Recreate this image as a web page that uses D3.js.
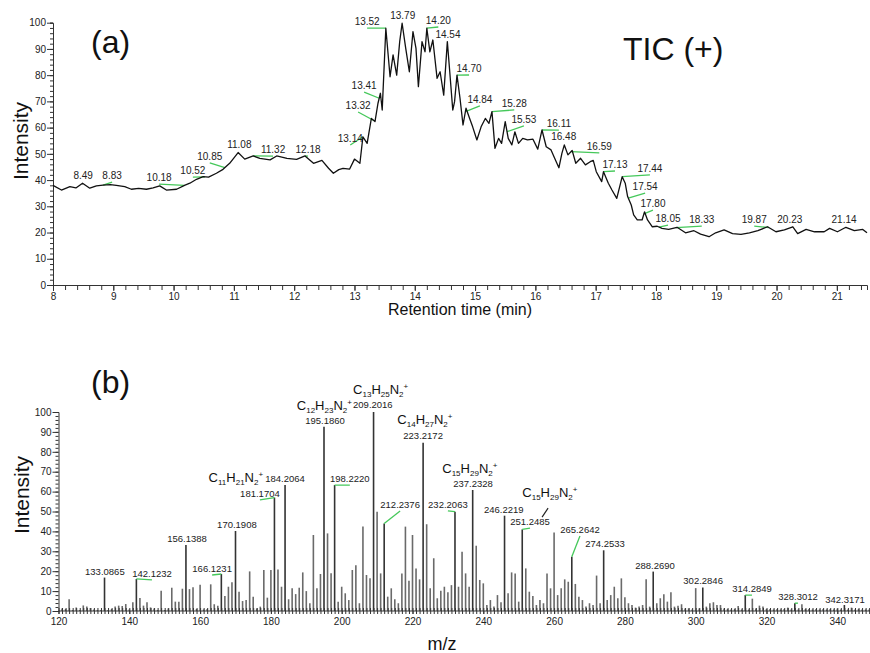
<!DOCTYPE html>
<html>
<head>
<meta charset="utf-8">
<script src="https://cdn.jsdelivr.net/npm/d3@7"></script>
<style>
body { margin: 0; background: #fff; }
text { font-family: "Liberation Sans", Arial, sans-serif; }
.axis path, .axis line { stroke: #333; }
.axis text { font-size: 10px; fill: #222; }
</style>
</head>
<body>
<svg id="chart" width="870" height="653"></svg>
<script>
// ---- (a) TIC (+) trace ----
var ticTime = [8.00, 8.14, 8.28, 8.38, 8.49, 8.61, 8.72, 8.83, 8.95, 9.05, 9.19, 9.30, 9.42, 9.55, 9.66, 9.77, 9.88, 10.05,
    10.19, 10.27, 10.38, 10.49, 10.58, 10.71, 10.82, 10.93, 11.07, 11.18, 11.32, 11.43, 11.60, 11.71, 11.88, 12.04,
    12.18, 12.32, 12.46, 12.57, 12.65, 12.74, 12.81, 12.92, 13.00, 13.09, 13.14, 13.21, 13.28, 13.34, 13.39, 13.43,
    13.46, 13.52, 13.59, 13.64, 13.70, 13.75, 13.79, 13.85, 13.91, 13.97, 14.02, 14.06, 14.12, 14.17, 14.20, 14.25,
    14.30, 14.37, 14.42, 14.48, 14.54, 14.58, 14.63, 14.66, 14.70, 14.75, 14.80, 14.85, 14.91, 14.96, 15.03, 15.10,
    15.17, 15.23, 15.28, 15.33, 15.39, 15.44, 15.50, 15.55, 15.61, 15.66, 15.72, 15.79, 15.87, 15.96, 16.04, 16.11,
    16.18, 16.26, 16.32, 16.39, 16.44, 16.48, 16.54, 16.61, 16.67, 16.75, 16.83, 16.91, 16.96, 17.01, 17.10, 17.13,
    17.21, 17.27, 17.35, 17.44, 17.49, 17.53, 17.59, 17.63, 17.69, 17.77, 17.81, 17.86, 17.94, 18.02, 18.10, 18.21,
    18.35, 18.49, 18.63, 18.74, 18.88, 18.99, 19.13, 19.27, 19.41, 19.55, 19.69, 19.85, 19.99, 20.13, 20.27, 20.35,
    20.49, 20.63, 20.79, 20.88, 21.01, 21.15, 21.29, 21.43, 21.50];
var ticIntensity = [38.0, 36.2, 37.5, 37.0, 38.8, 36.9, 37.8, 38.1, 38.3, 38.0, 37.5, 36.5, 36.8, 36.5, 37.0, 37.8, 36.2, 36.5,
    38.1, 38.8, 40.3, 41.3, 41.1, 42.6, 44.1, 46.4, 50.5, 48.0, 49.2, 48.3, 47.7, 49.2, 48.3, 47.9,
    49.2, 46.4, 47.5, 44.5, 42.6, 44.0, 44.5, 44.2, 48.0, 46.4, 56.5, 54.0, 63.5, 62.3, 69.3, 73.1,
    66.7, 97.9, 79.4, 87.7, 80.0, 92.8, 99.8, 90.2, 81.3, 96.6, 90.2, 75.6, 92.8, 88.9, 97.9, 88.9,
    93.4, 78.8, 81.3, 72.4, 92.8, 81.3, 66.7, 69.9, 80.0, 71.2, 61.0, 67.4, 63.5, 60.3, 55.3, 60.3,
    63.5, 61.6, 66.1, 52.1, 55.9, 54.0, 62.3, 55.9, 53.4, 58.4, 54.0, 55.9, 55.3, 55.6, 51.8, 59.1,
    52.7, 51.5, 48.3, 44.7, 50.2, 53.4, 49.6, 51.3, 46.4, 48.3, 45.8, 47.0, 47.5, 43.2, 39.4, 43.2,
    38.8, 36.2, 33.0, 41.3, 38.8, 33.7, 30.5, 26.7, 24.8, 24.8, 27.9, 24.8, 22.2, 22.4, 21.6, 21.2,
    22.0, 19.9, 20.7, 19.4, 18.4, 19.9, 21.0, 19.6, 19.3, 19.9, 20.7, 22.2, 20.3, 21.0, 22.2, 19.6,
    21.2, 20.3, 20.3, 21.6, 20.3, 22.0, 20.7, 21.2, 19.9];
var ticPeaks = ["8.49", "8.83", "10.18", "10.52", "10.85", "11.08", "11.32", "12.18", "13.14", "13.32", "13.41",
    "13.52", "13.79", "14.20", "14.54", "14.70", "14.84", "15.28", "15.53", "16.11", "16.48", "16.59", "17.13",
    "17.44", "17.54", "17.80", "18.05", "18.33", "19.87", "20.23", "21.14"];
var ticXTicks = [8, 9, 10, 11, 12, 13, 14, 15, 16, 17, 18, 19, 20, 21];
var yTicks = [0, 10, 20, 30, 40, 50, 60, 70, 80, 90, 100];

// ---- (b) mass spectrum, one bar per nominal m/z from 121 ----
var msStart = 121;
var msIntensity = [1.3, 1, 5.9, 0.5, 1.8, 0.5, 2.8, 2.2, 1.5, 0.8,
    0.5, 0.5, 16.8, 0.5, 1, 2.2, 2.7, 2.5, 3.5, 0.8,
    4.4, 16.1, 6.5, 2.7, 4.4, 1.8, 1.3, 0.5, 10.2, 0.5,
    1.3, 11.7, 4.7, 4.7, 11.2, 33.2, 11, 11.9, 1, 13.2,
    0.8, 1, 13.4, 3.4, 2.7, 18.6, 7.5, 12.2, 14.4, 40.2,
    9.7, 5, 5.5, 19.9, 7.2, 1.3, 2.2, 20.6, 6.7, 20.6,
    57, 20.9, 12.2, 63.3, 5.9, 11.4, 8.5, 11.7, 19.4, 10,
    3.9, 38.2, 11.4, 18.6, 92.6, 39, 19, 63.3, 4.7, 12.2,
    8.9, 5.5, 20.6, 23, 3.9, 42.4, 18.1, 16.4, 100, 49.9,
    18.9, 44, 7.2, 11.4, 5.9, 3.9, 18.9, 42.4, 15.2, 38.2,
    21.4, 15.9, 84.6, 43.6, 11.4, 26.5, 6.4, 10.2, 12.2, 9.4,
    13, 49.9, 12.2, 29.8, 18.9, 12.2, 60.8, 32.8, 15.6, 13.9,
    3, 5.5, 2.2, 8, 4.4, 47.9, 8.9, 19.4, 18.9, 4.7,
    41, 21.4, 9.7, 7.5, 3, 5.5, 3.9, 18.9, 11.4, 39.4,
    8, 11.4, 15.9, 14.7, 27.3, 13.6, 7.2, 5.5, 2.2, 3.9,
    3, 17.8, 3.9, 30.5, 5.5, 8, 12.2, 6.4, 16.4, 6.9,
    3.9, 3, 1.7, 2.2, 3, 15.9, 2.2, 19.8, 3.9, 6.4,
    8.4, 4.7, 9.4, 2.2, 2.7, 3.4, 1.3, 1.3, 0.8, 11.5,
    1.3, 11.8, 2.2, 3.9, 4.4, 3, 3, 1.3, 1, 0.8,
    1, 2.5, 0.8, 8, 0.8, 6.2, 1.3, 2.7, 2.2, 1,
    1, 0.8, 1, 0.8, 1, 1.7, 0.8, 3.9, 0.8, 3.4,
    1, 1, 0.8, 1, 0.8, 1, 0.8, 1, 0.8, 1.2,
    0.8, 3, 0.8, 1.7, 0.8, 1, 0.8, 0.8, 0.8, 0.8];
var msPeakMz = [133, 142, 156, 166, 170, 181, 184, 195, 198, 209, 212, 223, 232, 237, 246, 251, 265, 274, 288, 302, 314, 328, 342];
var msPeakText = ["133.0865", "142.1232", "156.1388", "166.1231", "170.1908", "181.1704", "184.2064", "195.1860",
    "198.2220", "209.2016", "212.2376", "223.2172", "232.2063", "237.2328", "246.2219", "251.2485", "265.2642",
    "274.2533", "288.2690", "302.2846", "314.2849", "328.3012", "342.3171"];
var msFormulas = ["C11H21N2+", "C12H23N2+", "C13H25N2+", "C14H27N2+", "C15H29N2+", "C15H29N2+"];
var msXTicks = [120, 140, 160, 180, 200, 220, 240, 260, 280, 300, 320, 340];

// ---- label layout (data units: [x, y, draw leader line]) ----
var ticLabelPos = [[8.50, 40.4, 0], [8.98, 40.4, 1], [9.76, 39.6, 1], [10.32, 42.3, 1], [10.60, 47.7, 1],
    [11.09, 52.2, 0], [11.65, 50.3, 1], [12.23, 50.3, 1], [12.93, 54.5, 1], [13.06, 67.1, 1], [13.16, 74.7, 1],
    [13.21, 99.1, 1], [13.80, 101.4, 0], [14.39, 99.5, 1], [14.55, 94.2, 0], [14.90, 81.2, 1], [15.08, 69.4, 1],
    [15.65, 67.9, 1], [15.81, 61.8, 1], [16.39, 60.2, 1], [16.47, 55.3, 0], [17.06, 51.5, 1], [17.32, 44.6, 1],
    [17.90, 43.1, 1], [17.82, 36.2, 1], [17.95, 29.7, 1], [18.20, 24.0, 1], [18.76, 23.6, 1], [19.63, 23.6, 1],
    [20.22, 23.6, 0], [21.12, 23.6, 0]];
var msLabelPos = [[133.1, 18.1, 0], [146.4, 17.1, 1], [156.3, 34.7, 0], [163.4, 19.6, 1], [170.4, 41.7, 0],
    [176.9, 57.3, 1], [184.0, 64.8, 0], [195.3, 94.0, 0], [202.3, 64.8, 1], [208.8, 102.0, 0], [216.5, 51.8, 1],
    [223.0, 86.4, 0], [230.0, 51.8, 1], [237.1, 62.3, 0], [245.8, 49.2, 0], [253.2, 43.2, 1], [267.3, 39.2, 1],
    [274.4, 32.2, 0], [288.5, 21.1, 0], [302.1, 13.6, 0], [315.9, 9.5, 1], [328.9, 5.5, 1], [342.2, 4.0, 0]];
var msFormulaPos = [[177.8, 64.8, "end"], [195.1, 101.0, "middle"], [211.0, 109.0, "middle"],
    [223.5, 94.0, "middle"], [236.2, 69.3, "middle"], [258.8, 57.3, "middle"]];

var svg = d3.select("#chart");
var green = "#45c85a";

// ================= (a) =================
var xA = d3.scaleLinear().domain([8, 21.5]).range([53, 867]);
var yA = d3.scaleLinear().domain([0, 100]).range([285, 22.7]);

svg.append("g").attr("class", "axis")
    .attr("transform", "translate(0,285)")
    .call(d3.axisBottom(xA).tickValues(d3.range(8, 21.51, 0.2)).tickSize(5).tickFormat(""));
svg.append("g").attr("class", "axis")
    .attr("transform", "translate(0,285)")
    .call(d3.axisBottom(xA).tickValues(ticXTicks).tickSize(6).tickPadding(2).tickFormat(d3.format("d")))
    .select(".domain").remove();
svg.append("g").attr("class", "axis")
    .attr("transform", "translate(53,0)")
    .call(d3.axisLeft(yA).tickValues(d3.range(0, 101, 2)).tickSize(3).tickFormat(""));
svg.append("g").attr("class", "axis")
    .attr("transform", "translate(53,0)")
    .call(d3.axisLeft(yA).tickValues(yTicks).tickSize(6).tickPadding(1))
    .select(".domain").remove();

var ticData = ticTime.map(function (t, i) { return {t: t, v: ticIntensity[i]}; });

function ticAt(t) {
    var i = d3.bisector(function (d) { return d.t; }).left(ticData, t);
    if (i <= 0) return ticData[0].v;
    if (i >= ticData.length) return ticData[ticData.length - 1].v;
    var a = ticData[i - 1], b = ticData[i];
    return a.v + (b.v - a.v) * (t - a.t) / (b.t - a.t);
}

ticPeaks.forEach(function (p, i) {
    var pos = ticLabelPos[i], t = +p;
    if (pos[2]) {
        svg.append("line")
            .attr("x1", xA(t)).attr("y1", yA(ticAt(t)))
            .attr("x2", xA(pos[0])).attr("y2", yA(pos[1]) + 3)
            .attr("stroke", green).attr("stroke-width", 1.3);
    }
});

svg.append("path")
    .datum(ticData)
    .attr("fill", "none")
    .attr("stroke", "#111")
    .attr("stroke-width", 1.3)
    .attr("stroke-linejoin", "round")
    .attr("d", d3.line()
        .x(function (d) { return xA(d.t); })
        .y(function (d) { return yA(d.v); }));

ticPeaks.forEach(function (p, i) {
    var pos = ticLabelPos[i];
    svg.append("text")
        .attr("x", xA(pos[0])).attr("y", yA(pos[1]))
        .attr("text-anchor", "middle")
        .attr("font-size", 10).attr("fill", "#222")
        .text(p);
});

svg.append("text").attr("x", 91).attr("y", 53).attr("font-size", 32).attr("fill", "#111").text("(a)");
svg.append("text").attr("x", 623).attr("y", 60).attr("font-size", 32).attr("fill", "#111").text("TIC (+)");
svg.append("text")
    .attr("transform", "translate(28,141) rotate(-90)")
    .attr("text-anchor", "middle").attr("font-size", 21).attr("fill", "#111")
    .text("Intensity");
svg.append("text")
    .attr("x", 460).attr("y", 315)
    .attr("text-anchor", "middle").attr("font-size", 16).attr("fill", "#111")
    .text("Retention time (min)");

// ================= (b) =================
var xB = d3.scaleLinear().domain([120, 350]).range([58.5, 872.7]);
var yB = d3.scaleLinear().domain([0, 100]).range([611, 412]);

var msData = msIntensity.map(function (v, i) { return {mz: msStart + i, v: v}; });

svg.append("g")
    .selectAll("line")
    .data(msData)
    .enter().append("line")
    .attr("x1", function (d) { return xB(d.mz); })
    .attr("x2", function (d) { return xB(d.mz); })
    .attr("y1", yB(0))
    .attr("y2", function (d) { return yB(d.v); })
    .attr("stroke", function (d) { return msPeakMz.indexOf(d.mz) >= 0 ? "#333" : "#6a6a6a"; })
    .attr("stroke-width", 1.6);

svg.append("g").attr("class", "axis")
    .attr("transform", "translate(0,608)")
    .call(d3.axisBottom(xB).tickValues(d3.range(120, 351, 1)).tickSize(6).tickFormat(""))
    .select(".domain").remove();
svg.append("line").attr("x1", 58.5).attr("x2", 870).attr("y1", 611).attr("y2", 611)
    .attr("stroke", "#333");
svg.append("g").attr("class", "axis")
    .attr("transform", "translate(0,611)")
    .call(d3.axisBottom(xB).tickValues(msXTicks).tickSize(3).tickPadding(4).tickFormat(d3.format("d")))
    .select(".domain").remove();
svg.append("g").attr("class", "axis")
    .attr("transform", "translate(58.5,0)")
    .call(d3.axisLeft(yB).tickValues(d3.range(0, 101, 2)).tickSize(3).tickFormat(""));
svg.append("g").attr("class", "axis")
    .attr("transform", "translate(58.5,0)")
    .call(d3.axisLeft(yB).tickValues(yTicks).tickSize(6).tickPadding(1))
    .select(".domain").remove();

msPeakMz.forEach(function (m, i) {
    var pos = msLabelPos[i];
    var top = msIntensity[m - msStart];
    if (pos[2]) {
        svg.append("line")
            .attr("x1", xB(m)).attr("y1", yB(top))
            .attr("x2", xB(pos[0])).attr("y2", yB(pos[1]) + 3)
            .attr("stroke", green).attr("stroke-width", 1.3);
    }
    svg.append("text")
        .attr("x", xB(pos[0])).attr("y", yB(pos[1]))
        .attr("text-anchor", "middle")
        .attr("font-size", 9.5).attr("fill", "#222")
        .text(msPeakText[i]);
});

// black leader from 251 label to second C15 formula
svg.append("line")
    .attr("x1", xB(256.6)).attr("y1", yB(47.2))
    .attr("x2", xB(258.3)).attr("y2", yB(51.7))
    .attr("stroke", "#222").attr("stroke-width", 1.2);

msFormulas.forEach(function (f, i) {
    var pos = msFormulaPos[i];
    var t = svg.append("text")
        .attr("x", xB(pos[0])).attr("y", yB(pos[1]))
        .attr("text-anchor", pos[2])
        .attr("font-size", 13).attr("fill", "#111");
    var parts = f.match(/[A-Z][a-z]?|\d+|\+/g);
    var shift = 0;
    parts.forEach(function (p) {
        var target = /\d/.test(p) ? 3 : (p === "+" ? -5 : 0);
        t.append("tspan")
            .attr("dy", target - shift)
            .attr("font-size", target === 0 ? 13 : 8)
            .text(p);
        shift = target;
    });
});

svg.append("text").attr("x", 91).attr("y", 393).attr("font-size", 32).attr("fill", "#111").text("(b)");
svg.append("text")
    .attr("transform", "translate(29,495) rotate(-90)")
    .attr("text-anchor", "middle").attr("font-size", 21).attr("fill", "#111")
    .text("Intensity");
svg.append("text")
    .attr("x", 442).attr("y", 650)
    .attr("text-anchor", "middle").attr("font-size", 18).attr("fill", "#111")
    .text("m/z");
</script>
</body>
</html>
